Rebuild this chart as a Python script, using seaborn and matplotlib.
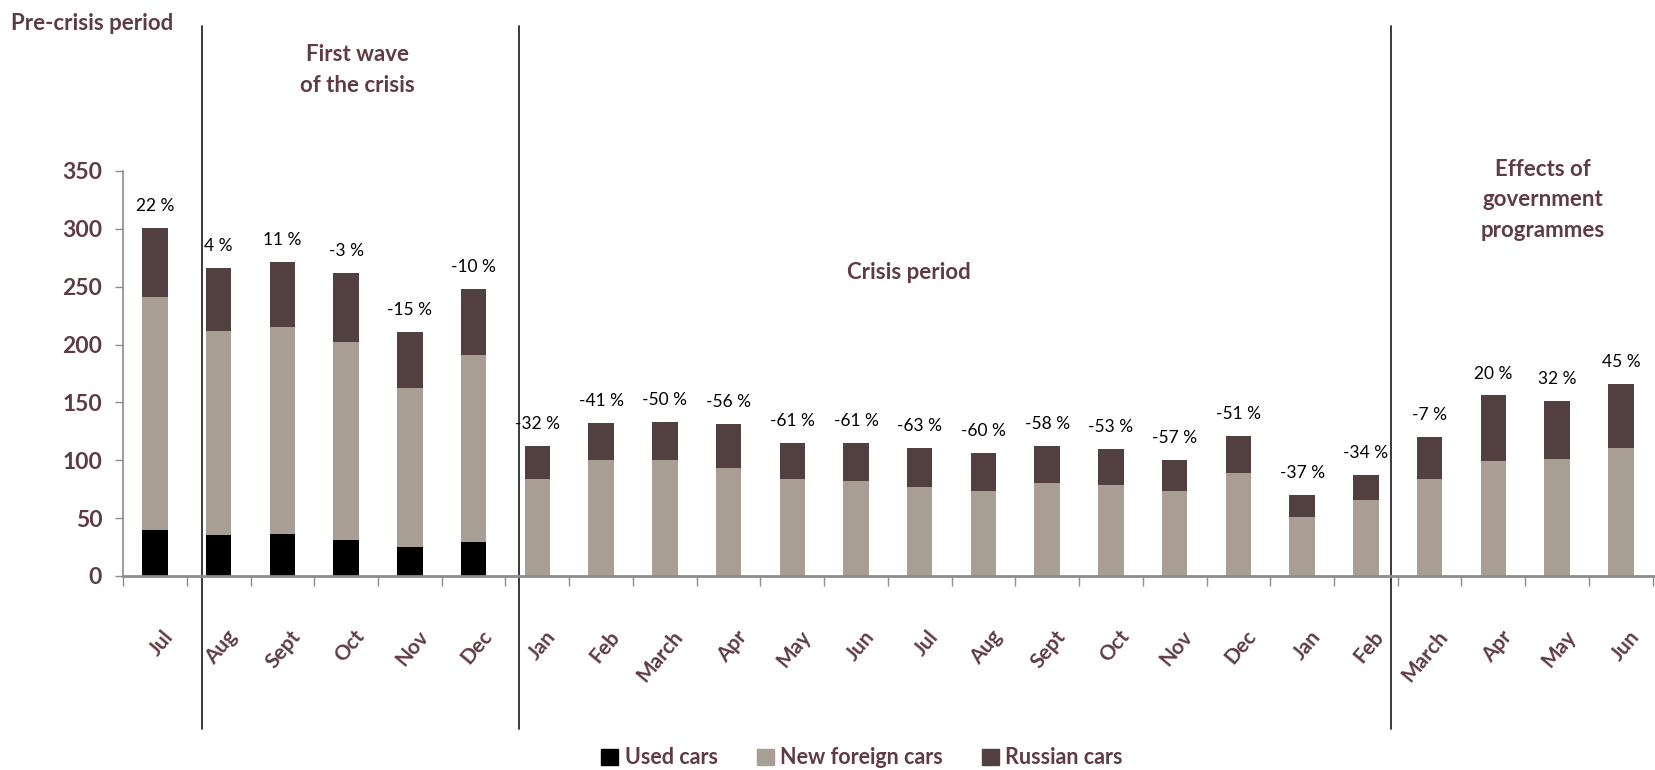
import numpy as np
import pandas as pd
import seaborn as sns
import matplotlib.pyplot as plt
import matplotlib.transforms as mtransforms
from matplotlib.patches import Patch

months = ["Jul", "Aug", "Sept", "Oct", "Nov", "Dec", "Jan", "Feb", "March", "Apr", "May", "Jun",
          "Jul", "Aug", "Sept", "Oct", "Nov", "Dec", "Jan", "Feb", "March", "Apr", "May", "Jun"]
used_cars = [40, 35, 36, 31, 25, 29, 0, 0, 0, 0, 0, 0, 0, 0, 0, 0, 0, 0, 0, 0, 0, 0, 0, 0]
new_foreign = [201, 177, 179, 171, 137, 162, 84, 100, 100, 93, 84, 82,
               77, 73, 80, 79, 73, 89, 51, 66, 84, 99, 101, 111]
russian_cars = [60, 54, 56, 60, 49, 57, 28, 32, 33, 38, 31, 33,
                34, 33, 32, 31, 27, 32, 19, 21, 36, 57, 50, 55]
yoy_change = [22, 4, 11, -3, -15, -10, -32, -41, -50, -56, -61, -61,
              -63, -60, -58, -53, -57, -51, -37, -34, -7, 20, 32, 45]

sns.set_style("white")
plt.rcParams["font.family"] = ["Lato", "DejaVu Sans"]

MAROON = "#5f3c43"
C_USED = "#000000"
C_NEW = "#a89e94"
C_RUS = "#523f3f"

df = pd.DataFrame({"pos": np.arange(len(months)),
                   "used": used_cars, "new": new_foreign, "rus": russian_cars})
df["lvl2"] = df["used"] + df["new"]
df["total"] = df["lvl2"] + df["rus"]

fig = plt.figure(figsize=(16.56, 7.7), dpi=100)
ax = fig.add_axes([0.0743, 0.252, 0.9237, 0.526])

for col, c in [("total", C_RUS), ("lvl2", C_NEW), ("used", C_USED)]:
    sns.barplot(data=df, x="pos", y=col, color=c, saturation=1, width=0.4,
                linewidth=0, edgecolor=c, ax=ax)

ax.set_xlim(-0.5, len(months) - 0.5)
ax.set_ylim(0, 350)
ax.set_yticks(range(0, 351, 50))
ax.set_xlabel("")
ax.set_ylabel("")

for s in ["top", "right"]:
    ax.spines[s].set_visible(False)
ax.spines["left"].set_color("#8c8c8c")
ax.spines["left"].set_linewidth(1.2)
ax.spines["bottom"].set_color("#8c8c8c")
ax.spines["bottom"].set_linewidth(2)

ax.tick_params(axis="y", left=True, length=6, width=1, color="#8c8c8c", pad=9,
               labelsize=16.5, labelcolor=MAROON)
for lab in ax.get_yticklabels():
    lab.set_fontweight("bold")

ax.set_xticks(df["pos"])
ax.set_xticklabels(months, rotation=50, ha="right", rotation_mode="anchor",
                   fontsize=15, color=MAROON, fontweight="bold")
ax.tick_params(axis="x", bottom=False, pad=33)
ax.set_xticks(np.arange(-0.5, len(months), 1), minor=True)
ax.tick_params(axis="x", which="minor", bottom=True, length=7, width=1, color="#8c8c8c")
shift = mtransforms.ScaledTranslation(7 / 100, 0, fig.dpi_scale_trans)
for lab in ax.get_xticklabels():
    lab.set_transform(lab.get_transform() + shift)

# change labels above bars
for i, (t, p) in enumerate(zip(df["total"], yoy_change)):
    ax.annotate(f"{p} %", (i, t), xytext=(0, 10), textcoords="offset points",
                ha="center", va="bottom", fontsize=12.5, color="black")

# period separators
for xv in [0.74, 5.72, 19.39]:
    ax.plot([xv, xv], [-132, 475], color="#2b2b2b", lw=1.3, clip_on=False)

fig.text(11 / 1656, 1 - 23 / 770, "Pre-crisis period", ha="left", va="center",
         fontsize=16, color=MAROON, fontweight="bold")
fig.text(357 / 1656, 1 - 70 / 770, "First wave\nof the crisis", ha="center", va="center",
         fontsize=16, color=MAROON, fontweight="bold", linespacing=1.55)
fig.text(909 / 1656, 1 - 273 / 770, "Crisis period", ha="center", va="center",
         fontsize=16, color=MAROON, fontweight="bold")
fig.text(1543 / 1656, 1 - 200 / 770, "Effects of\ngovernment\nprogrammes", ha="center",
         va="center", fontsize=16, color=MAROON, fontweight="bold", linespacing=1.55)

handles = [Patch(color=C_USED, label="Used cars"),
           Patch(color=C_NEW, label="New foreign cars"),
           Patch(color=C_RUS, label="Russian cars")]
leg = fig.legend(handles=handles, loc="center", bbox_to_anchor=(862 / 1656, 1 - 758 / 770),
                 ncol=3, frameon=False, fontsize=15.5, handlelength=0.8, handleheight=0.8,
                 handletextpad=0.3, columnspacing=1.8)
for t in leg.get_texts():
    t.set_color(MAROON)
    t.set_fontweight("bold")

fig.savefig("out.png", dpi=100)
